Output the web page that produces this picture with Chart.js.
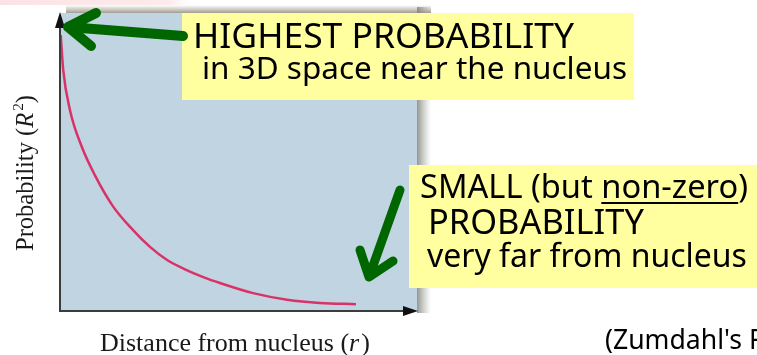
<!DOCTYPE html>
<html>
<head>
<meta charset="utf-8">
<script src="https://cdn.jsdelivr.net/npm/chart.js@4/dist/chart.umd.min.js"></script>
<style>
  body { margin: 0; background: #fff; }
  canvas { display: block; }
</style>
</head>
<body>
<canvas id="orbitalChart" width="757" height="355"></canvas>
<script>
// Values (r in arbitrary units 0..10, R^2 scaled 0..1)
const distance = [0.02, 0.09, 0.28, 0.61, 0.98, 1.48, 2.04, 2.52, 3.0, 3.5, 4.03, 4.48, 5.41, 6.36, 7.28, 8.29];
const probability = [0.926, 0.809, 0.674, 0.551, 0.455, 0.352, 0.272, 0.215, 0.171, 0.14, 0.113, 0.094, 0.06, 0.038, 0.027, 0.023];
const xRange = [0, 10];
const yRange = [0, 1];

const noteFont = '"Noto Sans", "DejaVu Sans", sans-serif';
const serifFont = '"Liberation Serif", "DejaVu Serif", serif';

// Set font size so the text spans the given width
function fitFont(ctx, text, width, family, style) {
    ctx.font = (style || '') + ' 20px ' + family;
    const size = 20 * width / ctx.measureText(text).width;
    ctx.font = (style || '') + ' ' + size.toFixed(2) + 'px ' + family;
    return size;
}

// Draw text made of styled runs
function drawRuns(ctx, runs, x, y, scale) {
    let px = x;
    runs.forEach(p => {
        ctx.font = p[1] + ' ' + (p[2] * scale).toFixed(2) + 'px ' + serifFont;
        ctx.fillText(p[0], px, y + p[3] * scale);
        px += ctx.measureText(p[0]).width + (p[1] ? 2 * scale : 0);
    });
}

function runsWidth(ctx, runs) {
    let w = 0;
    runs.forEach(p => {
        ctx.font = p[1] + ' ' + p[2] + 'px ' + serifFont;
        w += ctx.measureText(p[0]).width + (p[1] ? 2 : 0);
    });
    return w;
}

function drawArrow(ctx, x1, y1, x2, y2, w1, w2, lw) {
    ctx.save();
    ctx.strokeStyle = '#006600';
    ctx.lineWidth = lw;
    ctx.lineCap = 'round';
    ctx.lineJoin = 'round';
    ctx.beginPath();
    ctx.moveTo(x1, y1);
    ctx.lineTo(x2, y2);
    ctx.moveTo(w1[0], w1[1]);
    ctx.lineTo(x2, y2);
    ctx.lineTo(w2[0], w2[1]);
    ctx.stroke();
    ctx.restore();
}

const backdrop = {
    id: 'backdrop',
    beforeDraw(chart) {
        const ctx = chart.ctx;
        const a = chart.chartArea;
        ctx.save();
        // faint pink strip at the top left
        let g = ctx.createLinearGradient(0, 0, 200, 0);
        g.addColorStop(0, '#fbe3e5');
        g.addColorStop(0.85, '#fcebec');
        g.addColorStop(1, 'rgba(255,255,255,0)');
        ctx.fillStyle = g;
        ctx.fillRect(0, 0, 200, 5);
        // top shadow
        g = ctx.createLinearGradient(0, a.top - 8, 0, a.top);
        g.addColorStop(0, 'rgba(160,158,145,0)');
        g.addColorStop(1, 'rgba(155,153,140,0.95)');
        ctx.fillStyle = g;
        ctx.fillRect(a.left + 6, a.top - 8, a.right - a.left + 8, 8);
        // right shadow
        g = ctx.createLinearGradient(a.right, 0, a.right + 14, 0);
        g.addColorStop(0, 'rgba(130,130,125,0.85)');
        g.addColorStop(1, 'rgba(170,170,165,0)');
        ctx.fillStyle = g;
        ctx.fillRect(a.right, a.top - 6, 14, a.bottom - a.top + 8);
        // plot face
        ctx.fillStyle = '#c1d4e1';
        ctx.fillRect(a.left, a.top, a.right - a.left, a.bottom - a.top);
        ctx.restore();
    },
    afterDraw(chart) {
        const ctx = chart.ctx;
        const x = chart.scales.x;
        const y = chart.scales.y;
        const x0 = x.getPixelForValue(xRange[0]);
        const x1 = x.getPixelForValue(xRange[1]);
        const y0 = y.getPixelForValue(yRange[0]);
        const y1 = y.getPixelForValue(yRange[1]);
        ctx.save();

        // axes with arrow heads
        ctx.strokeStyle = '#3c3c3c';
        ctx.lineWidth = 2;
        ctx.beginPath();
        ctx.moveTo(x0, y1 + 4);
        ctx.lineTo(x0, y0);
        ctx.lineTo(x1 - 4, y0);
        ctx.stroke();
        ctx.fillStyle = '#111';
        ctx.beginPath();
        ctx.moveTo(x0, y1 - 1);
        ctx.lineTo(x0 - 5, y1 + 15);
        ctx.lineTo(x0 + 5, y1 + 15);
        ctx.closePath();
        ctx.fill();
        ctx.beginPath();
        ctx.moveTo(x1 + 1, y0);
        ctx.lineTo(x1 - 14, y0 - 5);
        ctx.lineTo(x1 - 14, y0 + 5);
        ctx.closePath();
        ctx.fill();

        // axis titles
        ctx.fillStyle = '#1a1a1a';
        ctx.textBaseline = 'alphabetic';
        const xParts = [['Distance from nucleus (', '', 24, 0], ['r', 'italic', 24, 0], [')', '', 24, 0]];
        drawRuns(ctx, xParts, 100, 351, 270 / runsWidth(ctx, xParts));

        ctx.save();
        ctx.translate(33, 251);
        ctx.rotate(-Math.PI / 2);
        const yParts = [['Probability (', '', 24, 0], ['R', 'italic', 24, 0], ['2', '', 15, -10], [')', '', 24, 0]];
        drawRuns(ctx, yParts, 0, 0, 156 / runsWidth(ctx, yParts));
        ctx.restore();

        // note boxes
        ctx.fillStyle = '#ffff9f';
        ctx.fillRect(182, 13, 452, 87);
        ctx.fillRect(409, 165, 348, 123);

        ctx.fillStyle = '#000';
        fitFont(ctx, 'HIGHEST PROBABILITY', 381, noteFont);
        ctx.fillText('HIGHEST PROBABILITY', 193, 48);
        fitFont(ctx, 'in 3D space near the nucleus', 425, noteFont);
        ctx.fillText('in 3D space near the nucleus', 202, 79);

        const line1 = 'SMALL (but non-zero)';
        fitFont(ctx, line1, 328, noteFont);
        ctx.fillText(line1, 420, 198);
        const pre = ctx.measureText('SMALL (but ').width;
        const under = ctx.measureText('non-zero').width;
        ctx.fillRect(420 + pre, 202, under, 2);
        fitFont(ctx, 'PROBABILITY', 216, noteFont);
        ctx.fillText('PROBABILITY', 428, 234);
        fitFont(ctx, 'very far from nucleus', 320, noteFont);
        ctx.fillText('very far from nucleus', 427, 267);

        fitFont(ctx, "(Zumdahl's", 137, noteFont);
        ctx.fillText("(Zumdahl's F", 605, 349);

        // green pointers
        drawArrow(ctx, 183, 36, 68, 27, [96, 13], [91, 46], 10);
        drawArrow(ctx, 400, 190, 369, 277, [360, 250], [393, 261], 9);

        ctx.restore();
    }
};

const ctx = document.getElementById('orbitalChart').getContext('2d');
new Chart(ctx, {
    type: 'line',
    data: {
        datasets: [{
            label: 'Probability',
            data: distance.map((r, i) => ({ x: r, y: probability[i] })),
            borderColor: '#d93268',
            borderWidth: 2.5,
            pointRadius: 0,
            fill: false,
            cubicInterpolationMode: 'monotone'
        }]
    },
    options: {
        responsive: false,
        devicePixelRatio: 1,
        animation: false,
        layout: {
            padding: { left: 60, top: 13, right: 340, bottom: 44 }
        },
        plugins: {
            legend: { display: false },
            tooltip: { enabled: false }
        },
        scales: {
            x: { type: 'linear', min: xRange[0], max: xRange[1], display: false },
            y: { type: 'linear', min: yRange[0], max: yRange[1], display: false }
        }
    },
    plugins: [backdrop]
});
</script>
</body>
</html>
